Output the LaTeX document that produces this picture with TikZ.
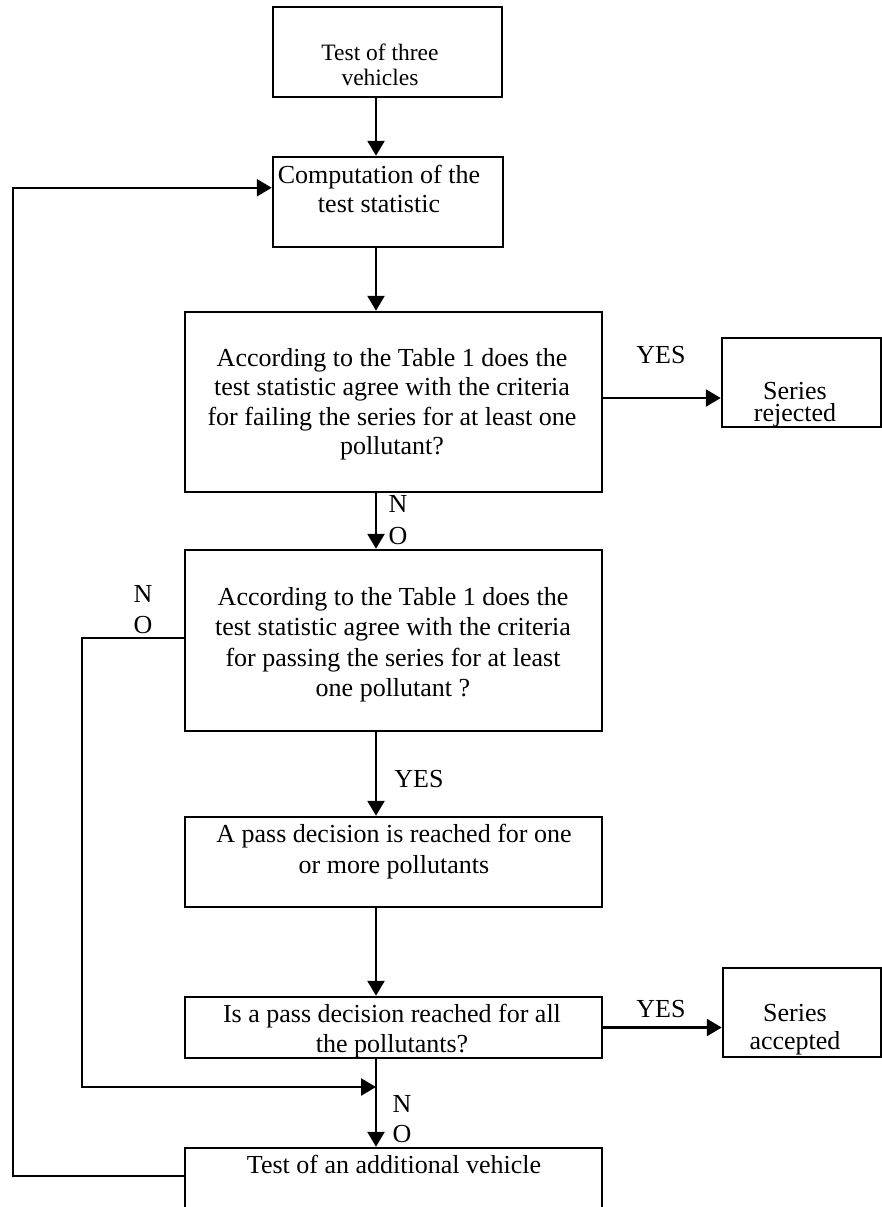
\documentclass[tikz,border=0pt]{standalone}
\usepackage{fontspec}
\setmainfont{Liberation Serif}
\usetikzlibrary{arrows.meta,calc}

\tikzset{
  flowbox/.style={draw, line width=2.5pt, rectangle, inner sep=0pt},
  txt/.style={inner sep=0pt, align=center, anchor=north},
  lbl/.style={inner sep=0pt, anchor=base, font=\fs{26}{30}},
  arr/.style={line width=2.5pt, -{Triangle[length=15pt,width=17pt]}},
}
\newcommand{\fs}[2]{\fontsize{#1}{#2}\selectfont}

\begin{document}
\begin{tikzpicture}[x=1pt, y=-1pt]
% Background
\fill[white] (0,0) rectangle (882,1207);
\useasboundingbox (0,0) rectangle (882,1207);

% Boxes
\node[flowbox, minimum width=229pt, minimum height=90pt] (start) at (387.5,52) {};
\node[flowbox, minimum width=230pt, minimum height=90pt] (compute) at (388,202) {};
\node[flowbox, minimum width=417pt, minimum height=180pt] (failq) at (393.5,402) {};
\node[flowbox, minimum width=417pt, minimum height=181pt] (passq) at (393.5,640.5) {};
\node[flowbox, minimum width=417pt, minimum height=90pt] (passone) at (393.5,862) {};
\node[flowbox, minimum width=417pt, minimum height=61pt] (passall) at (393.5,1027.5) {};
\node[flowbox, minimum width=417pt, minimum height=82pt] (addveh) at (393.5,1189) {};
\node[flowbox, minimum width=159pt, minimum height=89pt] (rejected) at (801.5,382.5) {};
\node[flowbox, minimum width=158pt, minimum height=89pt] (accepted) at (802,1012.5) {};

% Box texts
\node[txt, font=\fs{23.5}{25}] (starttxt) at (380,44) {Test of three\\vehicles};
\node[txt, font=\fs{26}{29}] (computetxt) at (379,165.2) {Computation of the\\test statistic};
\node[txt, font=\fs{26}{29.5}] (failqtxt) at (392,348.2) {According to the Table 1 does the\\test statistic agree with the criteria\\for failing the series for at least one\\pollutant?};
\node[txt, font=\fs{26}{30.5}] (passqtxt) at (393,587.2) {According to the Table 1 does the\\test statistic agree with the criteria\\for passing the series for at least\\one pollutant ?};
\node[txt, font=\fs{26}{31}] (passonetxt) at (394,824.2) {A pass decision is reached for one\\or more pollutants};
\node[txt, font=\fs{26}{30}] (passalltxt) at (392,1004.2) {Is a pass decision reached for all\\the pollutants?};
\node[txt, font=\fs{26}{30}] (addvehtxt) at (394,1155.2) {Test of an additional vehicle};
\node[txt, font=\fs{26}{22}] (rejectedtxt) at (795,382.2) {Series\\rejected};
\node[txt, font=\fs{26}{28}] (acceptedtxt) at (795,1004.2) {Series\\accepted};

% Main arrows
\coordinate (spine) at (376,0);
\draw[arr] (start.south -| spine) -- (compute.north -| spine);
\draw[arr] (compute.south -| spine) -- (failq.north -| spine);
\draw[arr] (failq.south -| spine) -- (passq.north -| spine);
\draw[arr] (passq.south -| spine) -- (passone.north -| spine);
\draw[arr] (passone.south -| spine) -- (passall.north -| spine);
\draw[arr] (passall.south -| spine) -- (addveh.north -| spine);

% Side arrows
\draw[arr] ([yshift=4pt]failq.east) -- ([yshift=4pt]failq.east -| rejected.west);
\draw[arr] (passall.east) -- (passall.east -| accepted.west);

% Loops
\coordinate (noleft) at (82,638);
\coordinate (join) at (376,1087);
\draw[arr] (noleft -| passq.west) -- (noleft) -- (noleft |- join) -- (join);
\coordinate (back) at (13,1177);
\draw[arr] ($(addveh.north west)+(0,29)$) -| (back) |- ($(compute.north west)+(0,32)$);

% Labels
\node[lbl] (yesfail) at (661,363) {YES};
\node[lbl] (yespass) at (419,787) {YES};
\node[lbl] (yesall) at (661,1017) {YES};
\node[txt, font=\fs{26}{32}] (nofail) at (398,494.8) {N\\O};
\node[txt, font=\fs{26}{31}] (nopass) at (143,584.8) {N\\O};
\node[txt, font=\fs{26}{30}] (noall) at (402,1094.8) {N\\O};
\end{tikzpicture}
\end{document}
